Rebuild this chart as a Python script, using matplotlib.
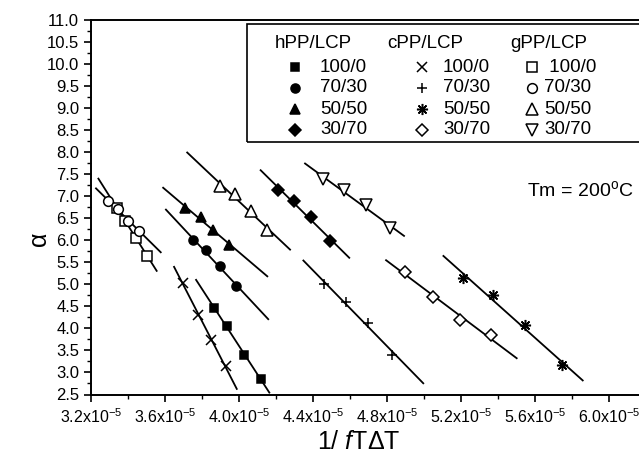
import numpy as np
import matplotlib
matplotlib.use("Agg")
import matplotlib.pyplot as plt
from matplotlib.ticker import MultipleLocator, FuncFormatter, FormatStrFormatter
from matplotlib.patches import Rectangle
from matplotlib.lines import Line2D

plt.rcParams['font.family'] = ['Liberation Sans', 'DejaVu Sans']
plt.rcParams['mathtext.fontset'] = 'custom'
plt.rcParams['mathtext.rm'] = 'Liberation Sans'
plt.rcParams['mathtext.it'] = 'Liberation Sans:italic'
plt.rcParams['mathtext.default'] = 'regular'

SCALE = 1e-5  # x values below are given in units of 1e-5

# hPP/LCP blends
hpp_100_x = [3.865, 3.937, 4.027, 4.117]
hpp_100_y = [4.46, 4.05, 3.39, 2.86]
hpp_70_x = [3.750, 3.822, 3.897, 3.984]
hpp_70_y = [6.00, 5.77, 5.41, 4.96]
hpp_50_x = [3.708, 3.793, 3.858, 3.948]
hpp_50_y = [6.73, 6.53, 6.24, 5.89]
hpp_30_x = [4.212, 4.297, 4.388, 4.492]
hpp_30_y = [7.14, 6.89, 6.53, 5.98]

# cPP/LCP blends
cpp_100_x = [3.699, 3.777, 3.847, 3.930]
cpp_100_y = [5.03, 4.31, 3.74, 3.14]
cpp_70_x = [4.459, 4.578, 4.699, 4.829]
cpp_70_y = [5.00, 4.60, 4.12, 3.40]
cpp_50_x = [5.209, 5.371, 5.548, 5.744]
cpp_50_y = [5.15, 4.75, 4.07, 3.16]
cpp_30_x = [4.897, 5.050, 5.196, 5.361]
cpp_30_y = [5.28, 4.72, 4.18, 3.84]

# gPP/LCP blends
gpp_100_x = [3.339, 3.384, 3.443, 3.504]
gpp_100_y = [6.74, 6.44, 6.06, 5.64]
gpp_70_x = [3.294, 3.348, 3.402, 3.461]
gpp_70_y = [6.89, 6.70, 6.44, 6.21]
gpp_50_x = [3.897, 3.978, 4.063, 4.153]
gpp_50_y = [7.23, 7.04, 6.67, 6.23]
gpp_30_x = [4.456, 4.568, 4.686, 4.816]
gpp_30_y = [7.38, 7.14, 6.81, 6.27]

# x span covered by each linear fit
hpp_100_fit = [3.768, 4.164]
hpp_70_fit = [3.605, 4.158]
hpp_50_fit = [3.590, 4.153]
hpp_30_fit = [4.117, 4.596]
cpp_100_fit = [3.649, 3.988]
cpp_70_fit = [4.348, 4.996]
cpp_50_fit = [5.105, 5.858]
cpp_30_fit = [4.795, 5.501]
gpp_100_fit = [3.240, 3.555]
gpp_70_fit = [3.227, 3.577]
gpp_50_fit = [3.720, 4.276]
gpp_30_fit = [4.357, 4.892]

compositions = ["100/0", "70/30", "50/50", "30/70"]
groups = ["hPP/LCP", "cPP/LCP", "gPP/LCP"]

ASTERISK = (8, 2, 0)
styles = {
    "hPP/LCP": [dict(marker='s', mfc='black', ms=6.2),
                dict(marker='o', mfc='black', ms=6.5),
                dict(marker='^', mfc='black', ms=7.5),
                dict(marker='D', mfc='black', ms=6.0)],
    "cPP/LCP": [dict(marker='x', mfc='none', ms=6.5),
                dict(marker='+', mfc='none', ms=7.5),
                dict(marker=ASTERISK, mfc='none', ms=8),
                dict(marker='D', mfc='white', ms=6.0)],
    "gPP/LCP": [dict(marker='s', mfc='white', ms=6.5),
                dict(marker='o', mfc='white', ms=7),
                dict(marker='^', mfc='white', ms=8),
                dict(marker='v', mfc='white', ms=8)],
}

series = {
    "hPP/LCP": [(hpp_100_x, hpp_100_y, hpp_100_fit), (hpp_70_x, hpp_70_y, hpp_70_fit),
                (hpp_50_x, hpp_50_y, hpp_50_fit), (hpp_30_x, hpp_30_y, hpp_30_fit)],
    "cPP/LCP": [(cpp_100_x, cpp_100_y, cpp_100_fit), (cpp_70_x, cpp_70_y, cpp_70_fit),
                (cpp_50_x, cpp_50_y, cpp_50_fit), (cpp_30_x, cpp_30_y, cpp_30_fit)],
    "gPP/LCP": [(gpp_100_x, gpp_100_y, gpp_100_fit), (gpp_70_x, gpp_70_y, gpp_70_fit),
                (gpp_50_x, gpp_50_y, gpp_50_fit), (gpp_30_x, gpp_30_y, gpp_30_fit)],
}

W, H = 639, 462
fig = plt.figure(figsize=(W / 100, H / 100), dpi=100)
ax = fig.add_axes([91 / W, (H - 394.5) / H, 555 / W, 374.5 / H])

for g in groups:
    for (xs, ys, span), st in zip(series[g], styles[g]):
        x = np.asarray(xs) * SCALE
        y = np.asarray(ys)
        k, b = np.polyfit(x, y, 1)
        xf = np.asarray(span) * SCALE
        ax.plot(xf, k * xf + b, color='black', lw=1.3, zorder=2)
        ax.plot(x, y, ls='none', color='black', mec='black', mew=1.1,
                zorder=3, **st)

ax.set_xlim(3.2e-5, 6.2e-5)
ax.set_ylim(2.5, 11.0)
ax.xaxis.set_major_locator(MultipleLocator(0.4e-5))
ax.xaxis.set_minor_locator(MultipleLocator(0.2e-5))
ax.yaxis.set_major_locator(MultipleLocator(0.5))
ax.yaxis.set_minor_locator(MultipleLocator(0.25))
ax.xaxis.set_major_formatter(FuncFormatter(lambda v, p: f"{v / SCALE:.1f}x10$^{{-5}}$"))
ax.yaxis.set_major_formatter(FormatStrFormatter('%.1f'))
ax.tick_params(which='major', direction='out', length=5, width=1.2, labelsize=12)
ax.tick_params(axis='x', labelsize=11.5, pad=4)
ax.tick_params(which='minor', direction='out', length=3, width=1.0)
for s in ax.spines.values():
    s.set_linewidth(1.4)

ax.set_xlabel("1/ $\\mathit{f}$TΔT", fontsize=18)
ax.xaxis.set_label_coords(0.483, -0.095)
ax.set_ylabel("α", fontsize=18)
ax.yaxis.set_label_coords(-0.072, 0.415)

ax.text(580 / W, 1 - 190 / H, "Tm = 200$^{o}$C", transform=fig.transFigure,
        ha='center', va='center', fontsize=14)

# Legend table drawn in figure pixels
def fx(px):
    return px / W

def fy(py):
    return 1 - py / H

fig.add_artist(Rectangle((fx(246.5), fy(142)), fx(400), 118 / H,
                         transform=fig.transFigure, fill=False,
                         edgecolor='black', lw=1.2))
header_x = [275, 387, 510]
marker_x = [295, 421.5, 531.5]
label_x = [320, 443, 544]
row_y = [67, 88, 109, 130]
for gi, g in enumerate(groups):
    fig.text(fx(header_x[gi]), fy(43), g, fontsize=13.5, ha='left', va='center')
    for ri, comp in enumerate(compositions):
        st = dict(styles[g][ri])
        fig.add_artist(Line2D(
            [fx(marker_x[gi])], [fy(row_y[ri])], transform=fig.transFigure,
            ls='none', color='black', mec='black', mew=1.1, **st))
        txt = (" " + comp) if (g == "gPP/LCP" and ri == 0) else comp
        fig.text(fx(label_x[gi]), fy(row_y[ri]), txt, fontsize=13.5,
                 ha='left', va='center')

fig.savefig("out.png", dpi=100)
